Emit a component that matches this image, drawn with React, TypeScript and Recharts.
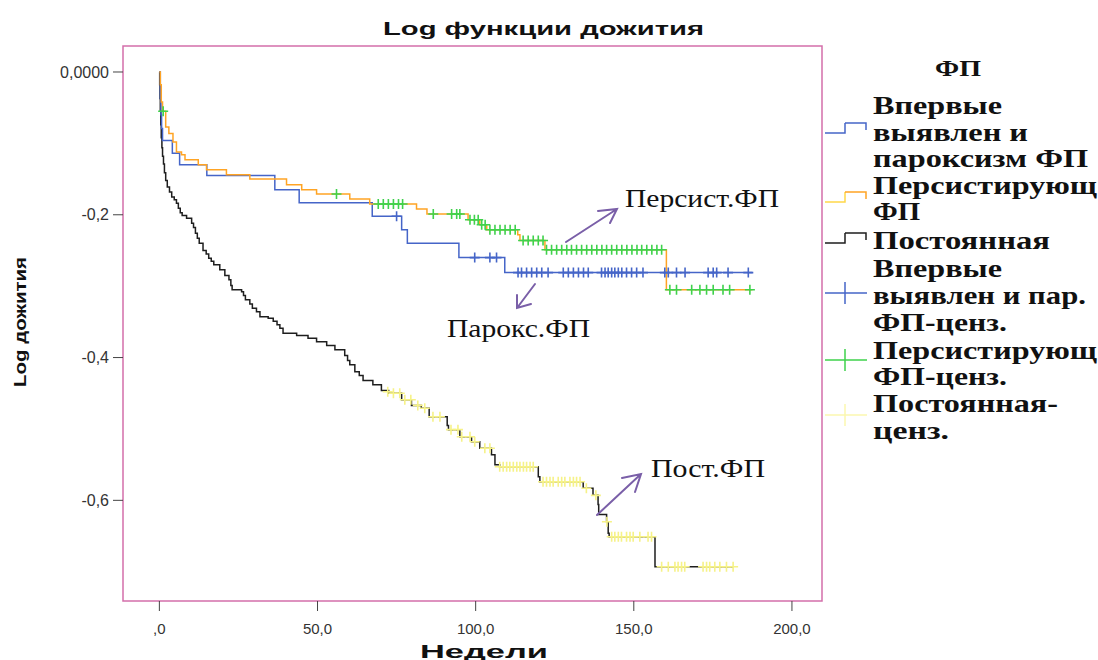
import React from "react";
import {
  ComposedChart,
  Line,
  Scatter,
  XAxis,
  YAxis,
  ReferenceArea,
} from "recharts";

// Kaplan–Meier log survival, steps as [week, value]
const paroxSteps: [number, number][] = [
  [0, 0], [0.3, -0.037], [0.5, -0.06], [0.7, -0.079], [1.0, -0.096],
  [4.1, -0.114], [6.4, -0.13], [15.0, -0.145], [36.5, -0.165],
  [44.2, -0.183], [67.3, -0.202], [76.6, -0.221], [78.4, -0.24],
  [94.7, -0.26], [109.2, -0.281], [187.5, -0.281],
];

const persistSteps: [number, number][] = [
  [0, 0], [0.3, -0.018], [0.6, -0.042], [1.0, -0.055], [2.0, -0.077],
  [3.0, -0.086], [4.3, -0.098], [5.4, -0.112], [7.0, -0.116],
  [8.1, -0.123], [12.3, -0.13], [14.9, -0.137], [21.2, -0.144],
  [28.6, -0.15], [40.2, -0.158], [45.0, -0.165], [49.7, -0.171],
  [60.2, -0.178], [66.5, -0.185], [81.3, -0.192], [84.6, -0.199],
  [97.6, -0.207], [101.3, -0.214], [103.5, -0.221], [113.3, -0.228],
  [114.0, -0.236], [121.9, -0.249], [160.3, -0.305], [187.5, -0.305],
];

const constSteps: [number, number][] = [
  [0, 0], [0.1, -0.018], [0.2, -0.037], [0.3, -0.055], [0.45, -0.074],
  [0.6, -0.092], [0.8, -0.106], [1.0, -0.118], [1.3, -0.129], [1.6, -0.141],
  [2.0, -0.152], [2.5, -0.161], [3.2, -0.168], [3.9, -0.175],
  [4.7, -0.179], [5.4, -0.184], [6.0, -0.191], [6.6, -0.197],
  [7.2, -0.201], [8.6, -0.205], [10.2, -0.212], [10.8, -0.218],
  [11.4, -0.226], [12.0, -0.233], [12.6, -0.24], [13.8, -0.25],
  [14.8, -0.255], [15.6, -0.261], [16.4, -0.265], [17.2, -0.27],
  [19.1, -0.277], [20.7, -0.285], [22.0, -0.291], [22.6, -0.299],
  [23.0, -0.305], [26.0, -0.308], [26.6, -0.313], [27.2, -0.319],
  [28.6, -0.325], [29.4, -0.331], [30.7, -0.336], [31.8, -0.343],
  [34.4, -0.345], [36.0, -0.349], [37.2, -0.354], [38.1, -0.359],
  [39.1, -0.366], [43.4, -0.369], [47.0, -0.373], [49.7, -0.378],
  [52.9, -0.383], [55.5, -0.389], [58.6, -0.397], [59.5, -0.404],
  [60.2, -0.41], [61.8, -0.42], [63.2, -0.425], [64.4, -0.432],
  [67.5, -0.438], [70.2, -0.446], [72.5, -0.45], [76.6, -0.459],
  [79.7, -0.467], [82.8, -0.471], [85.3, -0.483], [91.0, -0.495],
  [91.4, -0.501], [95.0, -0.511], [98.7, -0.518], [101.3, -0.527],
  [105.0, -0.536], [106.1, -0.55], [107.6, -0.553], [119.8, -0.567],
  [120.3, -0.574], [134.0, -0.583], [137.1, -0.593], [138.7, -0.606],
  [138.9, -0.62], [141.4, -0.63], [141.9, -0.646], [142.2, -0.651],
  [156.7, -0.693], [181.5, -0.693],
];

// censored cases
const paroxCens: [number, number][] = [
  [75, -0.202], [99.7, -0.26], [104.5, -0.26], [106.6, -0.26],
  [113.4, -0.281], [114.5, -0.281], [116.1, -0.281], [117.7, -0.281],
  [119.3, -0.281], [120.9, -0.281], [122.9, -0.281], [127.7, -0.281],
  [129.3, -0.281], [130.9, -0.281], [132.5, -0.281], [134.1, -0.281],
  [135.6, -0.281], [139.8, -0.281], [140.9, -0.281], [141.9, -0.281],
  [143.0, -0.281], [144.0, -0.281], [145.1, -0.281], [146.2, -0.281],
  [147.7, -0.281], [149.3, -0.281], [150.9, -0.281], [152.9, -0.281],
  [159.8, -0.281], [160.9, -0.281], [163.5, -0.281], [166.2, -0.281],
  [173.5, -0.281], [175.1, -0.281], [176.2, -0.281], [179.8, -0.281],
  [186.2, -0.281],
];

const persistCens: [number, number][] = [
  [1.2, -0.055], [56, -0.171],
  [69.2, -0.185], [70.8, -0.185], [72.4, -0.185], [74.0, -0.185], [75.6, -0.185], [76.9, -0.185],
  [86.6, -0.199], [92.4, -0.199], [94.0, -0.199], [95.0, -0.199],
  [98.2, -0.207], [99.6, -0.207], [100.8, -0.207],
  [101.9, -0.214], [103.0, -0.214],
  [104.5, -0.221], [106.1, -0.221], [107.7, -0.221], [109.3, -0.221],
  [110.9, -0.221], [112.5, -0.221],
  [115.0, -0.236], [116.6, -0.236], [118.2, -0.236], [119.8, -0.236], [121.3, -0.236],
  [122.4, -0.249], [124.0, -0.249], [125.6, -0.249], [127.2, -0.249],
  [128.8, -0.249], [130.3, -0.249], [131.9, -0.249], [133.5, -0.249],
  [135.1, -0.249], [136.7, -0.249], [138.3, -0.249], [139.9, -0.249],
  [141.4, -0.249], [143.0, -0.249], [144.6, -0.249], [146.2, -0.249],
  [147.8, -0.249], [149.4, -0.249], [151.0, -0.249], [152.5, -0.249],
  [154.1, -0.249], [155.7, -0.249], [157.3, -0.249], [158.8, -0.249],
  [161.4, -0.305], [163.5, -0.305], [168.3, -0.305], [170.9, -0.305],
  [173.0, -0.305], [175.1, -0.305], [178.2, -0.305], [180.3, -0.305], [186.7, -0.305],
];

const constCens: [number, number][] = [
  [72.2, -0.448], [74.0, -0.45], [76.0, -0.45], [77.6, -0.459], [79.5, -0.459],
  [81.7, -0.467], [83.9, -0.471], [86.5, -0.483], [88.7, -0.483],
  [92.2, -0.501], [94.4, -0.501], [95.6, -0.511], [98.2, -0.511], [99.7, -0.518],
  [102.9, -0.527], [104.5, -0.527],
  [107.6, -0.553], [108.7, -0.553], [109.8, -0.553], [110.8, -0.553],
  [111.9, -0.553], [113.0, -0.553], [114.0, -0.553], [115.1, -0.553],
  [116.1, -0.553], [117.2, -0.553], [118.2, -0.553],
  [121.3, -0.574], [122.4, -0.574], [123.5, -0.574], [124.5, -0.574],
  [126.1, -0.574], [127.2, -0.574], [128.2, -0.574], [129.8, -0.574],
  [130.9, -0.574], [131.9, -0.574], [133.0, -0.574],
  [135.0, -0.583], [138.0, -0.593], [141.5, -0.63],
  [143.0, -0.651], [144.0, -0.651], [145.1, -0.651], [146.1, -0.651],
  [147.7, -0.651], [148.8, -0.651], [149.8, -0.651], [151.9, -0.651],
  [154.5, -0.651], [155.6, -0.651],
  [158.8, -0.693], [160.9, -0.693], [163.0, -0.693], [164.0, -0.693],
  [165.1, -0.693], [166.1, -0.693], [171.9, -0.693], [173.0, -0.693],
  [174.0, -0.693], [175.6, -0.693], [177.2, -0.693], [179.3, -0.693], [181.4, -0.693],
];

const xTicks = [0, 50, 100, 150, 200];
const xTickLabels = [",0", "50,0", "100,0", "150,0", "200,0"];
const yTicks = [0, -0.2, -0.4, -0.6];
const yTickLabels = ["0,0000", "-0,2", "-0,4", "-0,6"];

const BLUE = "#4565c8";
const ORANGE = "#ffa424";
const BLACK = "#1e1e1e";
const GREEN = "#3fd24c";
const YELLOW = "#f6f288";
const PINK = "#d36fab";
const PURPLE = "#7a5fa8";
const SANS = "'Liberation Sans', Arial, sans-serif";
const SERIF = "'Liberation Serif', 'Times New Roman', serif";

const rows = (pts: [number, number][]) => pts.map(([t, v]) => ({ t, v }));

const plus = (color: string) => (props: any) => {
  const { cx, cy } = props;
  if (cx == null || cy == null) return <g />;
  return (
    <path
      d={`M${cx - 5},${cy}h10M${cx},${cy - 5}v10`}
      stroke={color}
      strokeWidth={1.6}
      fill="none"
    />
  );
};

const legendItems = [
  { lines: ["Впервые", "выявлен и", "пароксизм ФП"], ys: [105, 132, 158], widths: [129, 155, 215] },
  { lines: ["Персистирующ", "ФП"], ys: [185, 211], widths: [224, 47] },
  { lines: ["Постоянная"], ys: [240], widths: [177] },
  { lines: ["Впервые", "выявлен и пар.", "ФП-ценз."], ys: [268, 295, 322], widths: [129, 213, 134] },
  { lines: ["Персистирующ", "ФП-ценз."], ys: [350, 376], widths: [224, 134] },
  { lines: ["Постоянная-", "ценз."], ys: [403, 430], widths: [185, 76] },
];

function Overlay() {
  const step = (y: number, c1: string, c2: string) => (
    <g fill="none" strokeWidth={1.5}>
      <path d={`M825,${y}H845V${y - 10}`} stroke={c1} />
      <path d={`M845,${y - 10}H866V${y - 3}`} stroke={c2} />
    </g>
  );
  const cross = (y: number, c: string) => (
    <path d={`M825,${y}H867M845,${y - 11}V${y + 11}`} stroke={c} strokeWidth={1.5} fill="none" />
  );
  return (
    <svg
      width={1098}
      height={660}
      style={{ position: "absolute", left: 0, top: 0, pointerEvents: "none" }}
    >
      <text x={383} y={28} dominantBaseline="central" fontFamily={SANS} fontWeight="bold"
        fontSize={19} textLength={321} lengthAdjust="spacingAndGlyphs" fill="#111">
        Log функции дожития
      </text>
      <text x={420} y={651} dominantBaseline="central" fontFamily={SANS} fontWeight="bold"
        fontSize={19} textLength={128} lengthAdjust="spacingAndGlyphs" fill="#111">
        Недели
      </text>
      <text transform="translate(20,322) rotate(-90)" textAnchor="middle" dominantBaseline="central"
        fontFamily={SANS} fontWeight="bold" fontSize={17} textLength={130}
        lengthAdjust="spacingAndGlyphs" fill="#111">
        Log дожития
      </text>

      <text x={935} y={68} dominantBaseline="central" fontFamily={SERIF} fontWeight="bold"
        fontSize={24} textLength={46} lengthAdjust="spacingAndGlyphs" fill="#111">
        ФП
      </text>
      {legendItems.map((it, i) =>
        it.lines.map((ln, j) => (
          <text key={`${i}-${j}`} x={873} y={it.ys[j]} dominantBaseline="central"
            fontFamily={SERIF} fontWeight="bold" fontSize={25} textLength={it.widths[j]}
            lengthAdjust="spacingAndGlyphs" fill="#111">
            {ln}
          </text>
        ))
      )}
      {step(133, BLUE, BLUE)}
      {step(202, "#ffd84a", ORANGE)}
      {step(243, BLACK, BLACK)}
      {cross(293, BLUE)}
      {cross(360, GREEN)}
      {cross(415, "#fbf7b0")}

      <g stroke={PURPLE} strokeWidth={2} fill="none" strokeLinecap="round">
        <path d="M566,242L617,209M598,211L617,209L610,223" />
        <path d="M535,284L517,308M517,295L517,308L531,304" />
        <path d="M597,515L641,474M622,478L641,474L635,492" />
      </g>
      <text x={625} y={198} dominantBaseline="central" fontFamily={SERIF} fontSize={25}
        textLength={154} lengthAdjust="spacingAndGlyphs" fill="#111">
        Персист.ФП
      </text>
      <text x={447} y={328} dominantBaseline="central" fontFamily={SERIF} fontSize={25}
        textLength={143} lengthAdjust="spacingAndGlyphs" fill="#111">
        Парокс.ФП
      </text>
      <text x={651} y={468} dominantBaseline="central" fontFamily={SERIF} fontSize={25}
        textLength={114} lengthAdjust="spacingAndGlyphs" fill="#111">
        Пост.ФП
      </text>
    </svg>
  );
}

export default function App() {
  const xLabel = (props: any) => {
    const { x, y, payload } = props;
    const i = xTicks.indexOf(payload.value);
    return (
      <text x={x} y={y} dy="0.71em" textAnchor="middle" fontFamily={SANS} fontSize={15} fill="#333">
        {xTickLabels[i]}
      </text>
    );
  };
  const yLabel = (props: any) => {
    const { x, y, payload } = props;
    const i = yTicks.findIndex((t) => Math.abs(t - payload.value) < 1e-6);
    return (
      <text x={x} y={y} dy="0.35em" textAnchor="end" fontFamily={SANS} fontSize={16} fill="#333">
        {yTickLabels[i]}
      </text>
    );
  };

  return (
    <div style={{ position: "absolute", left: 0, top: 0, width: 1098, height: 660, background: "#fff" }}>
      <ComposedChart
        width={1098}
        height={660}
        margin={{ top: 46, right: 276, bottom: 19, left: 43 }}
      >
        <XAxis
          dataKey="t"
          type="number"
          domain={[-11.5, 209.5]}
          allowDataOverflow
          ticks={xTicks}
          tick={xLabel}
          tickSize={10}
          tickMargin={12}
          tickLine={{ stroke: "#444" }}
          axisLine={false}
          height={40}
        />
        <YAxis
          dataKey="v"
          type="number"
          domain={[-0.741, 0.0364]}
          allowDataOverflow
          ticks={yTicks}
          tick={yLabel}
          tickSize={10}
          tickMargin={4}
          tickLine={{ stroke: "#444" }}
          axisLine={false}
          width={80}
        />
        <ReferenceArea
          x1={-11.5}
          x2={209.5}
          y1={-0.741}
          y2={0.0364}
          fill="none"
          fillOpacity={0}
          stroke={PINK}
          strokeWidth={1.5}
          ifOverflow="visible"
        />
        <Line data={rows(constSteps)} dataKey="v" type="stepAfter" stroke={BLACK}
          strokeWidth={1.5} dot={false} activeDot={false} isAnimationActive={false} />
        <Line data={rows(paroxSteps)} dataKey="v" type="stepAfter" stroke={BLUE}
          strokeWidth={1.5} dot={false} activeDot={false} isAnimationActive={false} />
        <Line data={rows(persistSteps)} dataKey="v" type="stepAfter" stroke={ORANGE}
          strokeWidth={1.5} dot={false} activeDot={false} isAnimationActive={false} />
        <Scatter data={rows(paroxCens)} dataKey="v" shape={plus(BLUE)} isAnimationActive={false} />
        <Scatter data={rows(constCens)} dataKey="v" shape={plus(YELLOW)} isAnimationActive={false} />
        <Scatter data={rows(persistCens)} dataKey="v" shape={plus(GREEN)} isAnimationActive={false} />
      </ComposedChart>
      <Overlay />
    </div>
  );
}
